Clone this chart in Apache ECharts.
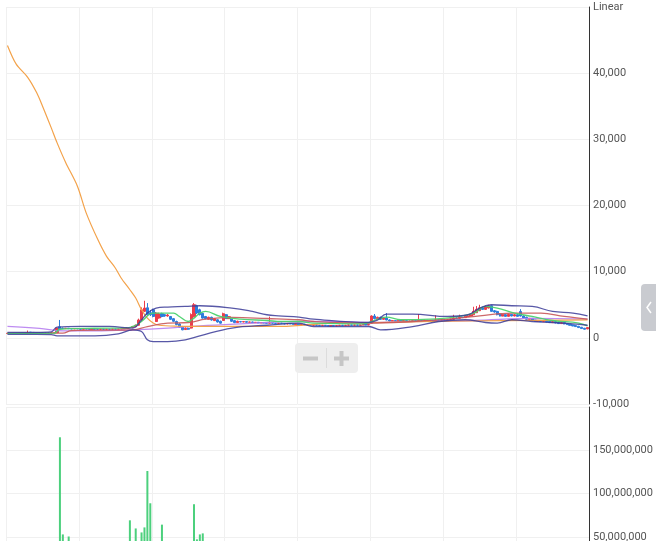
<!DOCTYPE html>
<html><head><meta charset="utf-8">
<script src="https://cdn.jsdelivr.net/npm/echarts@6/dist/echarts.min.js"></script>
<style>html,body{margin:0;padding:0;width:656px;height:541px;overflow:hidden;background:#fff}#c{width:656px;height:600px}</style>
</head><body><div id="c"></div>
<script>
// Candles: [open, close, low, high]
const candles = [
[660,680,640,700],[680,670,650,700],[670,690,660,710],[690,680,660,700],[680,700,670,720],
[700,690,670,720],[690,700,680,730],[700,720,690,1100],[850,820,800,880],[820,800,780,850],
[800,780,760,830],[780,770,750,800],[770,760,740,790],[760,750,730,780],[750,740,720,770],
[740,760,720,790],[760,780,740,800],[780,1470,760,1500],[1670,1360,1300,2700],[1450,1400,1350,1550],
[1400,1450,1380,1480],[1450,1380,1350,1480],[1380,1350,1300,1420],[1350,1400,1320,1430],[1400,1350,1320,1450],
[1350,1300,1280,1380],[1300,1350,1280,1400],[1350,1320,1300,1380],[1320,1300,1270,1350],[1300,1330,1280,1360],
[1330,1300,1280,1350],[1300,1280,1250,1330],[1280,1300,1250,1330],[1300,1280,1260,1320],[1280,1300,1260,1330],
[1300,1290,1270,1330],[1290,1320,1270,1350],[1320,1300,1280,1350],[1300,1330,1280,1360],[1330,1350,1300,1380],
[1350,1400,1320,1450],[1400,1480,1380,1620],[1480,1550,1450,1600],[1550,1700,1500,1800],[1700,1900,1650,2000],
[1900,2700,1850,2900],[2700,4240,2600,4600],[4000,4500,3900,5600],[4540,3480,3300,5250],[3800,3500,3300,4200],
[4240,3230,3100,4400],[2470,3740,2400,3900],[3000,3600,2900,3800],[3640,3230,3100,3800],[3500,3300,3200,3600],
[3300,3450,3200,3600],[3230,2800,2700,3300],[2900,2500,2400,3000],[2470,2000,1900,2600],[2100,1600,1500,2200],
[1700,1210,1150,1800],[1250,1450,1200,1600],[1450,1300,1200,1550],[1470,3500,1400,3700],[3200,5000,3100,5250],
[4850,3740,3600,5000],[4240,3500,3400,4400],[3700,2980,2900,3800],[3230,2900,2800,3300],[2800,3100,2750,3200],
[3100,2700,2600,3200],[2600,2900,2550,3000],[2730,2400,2300,2800],[2500,2220,2150,2600],[2620,3640,2600,3800],
[3500,2900,2850,3600],[2900,3200,2850,3300],[2830,2500,2400,2900],[2600,2300,2220,2700],[2300,2500,2250,2600],
[2450,2400,2350,2550],[2400,2450,2350,2500],[2450,2350,2300,2500],[2350,2400,2300,2450],[2400,2300,2250,2450],
[2300,2350,2250,2400],[2350,2250,2200,2400],[2250,2300,2200,2350],[2300,2250,2200,2350],[2250,2200,2150,2300],
[2200,2300,2150,3200],[2300,2200,2150,2350],[2200,2150,2100,2250],[2150,2200,2100,2250],[2200,2150,2100,2300],
[2150,2100,2050,2200],[2100,2150,2050,2200],[2150,2100,2050,2200],[2100,2050,2000,2150],[2050,2100,2000,2150],
[2100,2000,1950,2150],[2000,2050,1950,2100],[2050,1950,1900,2100],[1950,2000,1900,2050],[2000,1900,1850,2050],
[1900,1950,1850,2000],[1950,1900,1850,2000],[1900,1850,1800,1950],[1850,1900,1800,1950],[1900,1850,1800,1950],
[1850,1800,1750,1900],[1800,1850,1750,1900],[1850,1800,1750,1900],[1800,1850,1750,1900],[1850,1900,1800,1950],
[1900,1850,1800,1950],[1850,1900,1800,1950],[1900,1950,1850,2000],[1950,1900,1850,2000],[1900,1950,1850,2000],
[1950,1900,1850,2000],[1900,1950,1850,2000],[1950,2000,1900,2050],[2000,1950,1900,2050],[1950,2000,1900,2100],
[2200,3300,2150,3400],[3300,2900,2800,3600],[2900,3100,2850,3200],[3100,2800,2700,3200],[2800,3000,2750,3100],
[3000,2700,2650,3740],[2700,2550,2500,2800],[2550,2600,2500,2700],[2600,2500,2450,2650],[2500,2600,2450,2700],
[2600,2550,2500,2650],[2550,2600,2500,2700],[2600,2500,2450,2650],[2500,2550,2450,2600],[2550,2600,2500,2650],
[2600,2550,2500,2650],[2550,2650,2500,3600],[2650,2600,2550,2700],[2600,2650,2550,2750],[2650,2600,2550,2700],
[2600,2650,2550,2700],[2650,2600,2550,2700],[2600,2700,2550,3400],[2700,2650,2600,2750],[2650,2700,2600,2800],
[2700,2650,2600,2750],[2650,2750,2600,2800],[2750,2800,2700,2900],[2800,3000,2750,3480],[3000,2950,2900,3100],
[2950,3100,2900,3500],[3100,3050,3000,3200],[3050,3200,3000,3300],[3200,3300,3150,3400],[3300,3480,3250,3600],
[3480,4000,3450,4700],[3800,4300,3750,4800],[4100,4540,4050,5000],[4540,4300,4200,4700],[4300,4700,4250,4900],
[4500,4850,4450,5000],[4850,4000,3950,4900],[4100,3900,3800,4200],[3990,3500,3400,4100],[3600,3300,3230,3700],
[3300,3500,3250,3600],[3500,3250,3200,3600],[3250,3550,3200,3650],[3550,3300,3250,3600],[3300,3500,3250,3600],
[3500,3250,3200,3600],[3990,3300,3230,4340],[3300,3000,2950,3400],[3100,2800,2750,3200],[2800,2950,2750,3000],
[2950,2600,2550,3000],[2700,2500,2450,2750],[2500,2650,2450,2700],[2650,2450,2400,2700],[2450,2600,2400,2650],
[2600,2400,2350,2650],[2500,2300,2250,2550],[2300,2450,2250,2500],[2450,2250,2200,2500],[2300,2150,2100,2350],
[2150,2300,2100,2350],[2300,2100,2050,2350],[2150,2000,1950,2200],[2050,1900,1850,2100],[1950,1800,1750,2000],
[1850,1700,1650,1900],[1750,1550,1500,1800],[1600,1400,1350,1650],[1450,1300,1250,1500],[1350,1550,1300,1600]
];
// Volume (visible bars): [category index, volume]
const volume = [[18,165000000],[19,52700000],[21,50300000],[42,69000000],[44,59600000],[46,55000000],[47,60800000],
[48,126000000],[49,88700000],[53,64000000],[64,87600000],[65,47000000],[66,52700000],[67,53900000]];
// Indicator lines read at sampled categories: [category index, value]
const bbUpper = [[0,830],[10,830],[15,900],[17,1620],[25,1720],[35,1720],[43,1470],[46,2730],[48,3740],[51,4500],[55,4650],[61,4740],[66,4850],[77,4500],[84,3990],[89,3490],[93,3330],[100,3140],[105,2830],[124,2320],[127,2700],[130,3590],[139,3590],[151,3230],[158,3490],[162,4500],[166,5000],[173,4850],[180,4740],[187,3990],[194,3740],[199,3330]];
const bbLower = [[0,530],[15,500],[17,300],[30,300],[38,600],[43,1210],[46,950],[48,-300],[50,-560],[55,-560],[61,-300],[66,300],[77,1470],[89,1900],[100,2230],[105,1710],[124,1710],[128,1210],[139,1710],[148,2470],[157,2730],[164,2320],[168,2230],[173,2730],[180,2470],[187,2320],[194,2100],[199,1900]];
const maShort = [[0,680],[16,700],[18,1300],[30,1450],[41,1500],[44,1900],[46,2470],[50,3740],[57,3740],[59,3230],[62,2470],[64,2980],[66,3740],[68,3990],[73,3230],[80,2830],[89,2620],[94,2470],[100,2470],[105,2230],[122,2120],[127,2830],[130,3140],[135,2730],[145,2830],[153,3140],[160,3740],[164,4740],[168,4500],[174,3740],[180,3230],[187,2620],[196,2230],[199,1800]];
const maMid = [[0,710],[19,710],[22,1100],[43,1210],[48,1710],[55,2230],[62,2320],[68,2830],[77,3080],[89,2920],[100,2730],[105,2470],[124,2230],[139,2470],[151,2830],[162,3330],[173,3740],[183,3740],[191,3230],[199,2830]];
const maLong = [[0,1720],[11,1430],[19,1060],[30,1060],[43,1210],[55,1470],[66,1820],[80,2120],[100,2470],[111,2470],[124,2320],[139,2470],[160,2620],[180,2930],[199,2830]];
const maLonger = [[0,44190],[3,41360],[7,39340],[10,37070],[12,35050],[15,31770],[17,29500],[20,26470],[24,22920],[27,18890],[31,14850],[34,12320],[37,10560],[39,9040],[42,7270],[44,6010],[46,4240],[48,2980],[50,2230],[52,1900],[58,1750],[66,1720],[80,1720],[94,1720],[111,2220],[125,2300],[145,2470],[170,2600],[199,2700]];
const priceTicks = {min:-10000, max:50000, interval:10000, topLabel:'Linear'};
const volTicks = {min:0, max:200000000, interval:50000000};

const categories = candles.map((d, i) => 'D' + (i + 1));

const RED = '#ec3c4b', BLUE = '#2d7ddc';
const fmt = v => v.toLocaleString('en-US');
const gridLine = {show:true, lineStyle:{color:'#f0f0f0', width:1}};
const labelStyle = {color:'#555', fontSize:11, fontFamily:'Roboto, Arial, sans-serif', margin:4, padding:[4,0,0,0]};

function lineSeries(data, color, width, opacity, smooth) {
  return {type:'line', data, xAxisIndex:0, yAxisIndex:0, showSymbol:false, smooth:smooth,
    lineStyle:{color, width, opacity}, itemStyle:{color}, silent:true};
}

const chart = echarts.init(document.getElementById('c'));
chart.setOption({
  animation:false,
  grid:[
    {left:6, right:67, top:7, height:397},
    {left:6, right:67, top:407, height:173}
  ],
  xAxis:[
    {type:'category', gridIndex:0, data:categories, boundaryGap:true,
     axisLine:{show:false}, axisTick:{show:false}, axisLabel:{show:false, interval:24},
     splitLine:{...gridLine, interval:24}},
    {type:'category', gridIndex:1, data:categories, boundaryGap:true,
     axisLine:{show:false}, axisTick:{show:false}, axisLabel:{show:false, interval:24},
     splitLine:{...gridLine, interval:24}}
  ],
  yAxis:[
    {type:'value', gridIndex:0, position:'right', min:priceTicks.min, max:priceTicks.max, interval:priceTicks.interval,
     axisLine:{show:true, lineStyle:{color:'#333', width:1}}, axisTick:{show:false},
     axisLabel:{...labelStyle, formatter:v => v === priceTicks.max ? priceTicks.topLabel : fmt(v)},
     splitLine:gridLine},
    {type:'value', gridIndex:1, position:'right', min:volTicks.min, max:volTicks.max, interval:volTicks.interval,
     axisLine:{show:true, lineStyle:{color:'#333', width:1}}, axisTick:{show:false},
     axisLabel:{...labelStyle, showMaxLabel:false, formatter:v => fmt(v)},
     splitLine:gridLine}
  ],
  series:[
    {type:'candlestick', data:candles, xAxisIndex:0, yAxisIndex:0, barWidth:'90%',
     itemStyle:{color:RED, color0:BLUE, borderColor:RED, borderColor0:BLUE, borderWidth:1}},
    lineSeries(maLong, '#b77ff0', 1.3, 0.9, 0.4),
    lineSeries(maLonger, '#f3a24a', 1.2, 1, 0.3),
    lineSeries(maMid, '#c8585a', 1.3, 0.9, 0.4),
    lineSeries(maShort, '#4bd26e', 1.3, 0.95, 0.4),
    lineSeries(bbUpper, '#3b3b98', 1.3, 0.85, 0.4),
    lineSeries(bbLower, '#3b3b98', 1.3, 0.85, 0.4),
    {type:'bar', data:volume, xAxisIndex:1, yAxisIndex:1, barWidth:2, itemStyle:{color:'#4cd07d'}, silent:true}
  ],
  graphic:[
    {type:'rect', shape:{x:295, y:343, width:63, height:30, r:4}, style:{fill:'#eeeeee'}, z:100},
    {type:'rect', shape:{x:303, y:356.5, width:15, height:4}, style:{fill:'#c6c6c6'}, z:101},
    {type:'rect', shape:{x:334, y:356.5, width:15, height:4}, style:{fill:'#c6c6c6'}, z:101},
    {type:'rect', shape:{x:339.5, y:351, width:4, height:15}, style:{fill:'#c6c6c6'}, z:101},
    {type:'line', shape:{x1:326.5, y1:348, x2:326.5, y2:368}, style:{stroke:'#dcdcdc', lineWidth:1}, z:101},
    {type:'rect', shape:{x:641, y:284, width:20, height:47, r:4}, style:{fill:'#c9cbd0'}, z:100},
    {type:'polyline', shape:{points:[[651,302],[647,307.5],[651,313]]}, style:{stroke:'#fff', lineWidth:1.5, fill:null}, z:101}
  ]
});
</script></body></html>
